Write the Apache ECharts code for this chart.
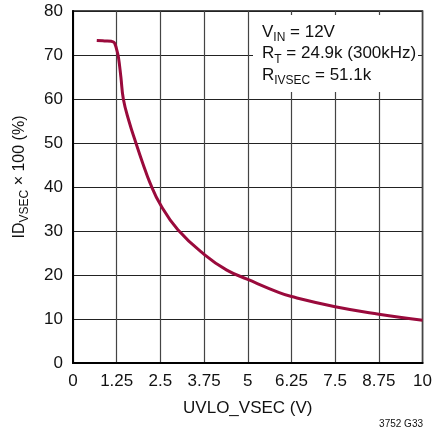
<!DOCTYPE html>
<html>
<head>
<meta charset="utf-8">
<script src="https://cdn.jsdelivr.net/npm/echarts@6/dist/echarts.min.js"></script>
<style>
html,body{margin:0;padding:0;background:#fff;}
#c{width:435px;height:434px;}
</style>
</head>
<body>
<div id="c"></div>
<script>
// UVLO_VSEC (V)
var uvloV = [0.68, 0.9, 1.1, 1.17, 1.21, 1.25, 1.3, 1.37, 1.44, 1.6, 1.8, 2.0, 2.2, 2.5, 3.0, 3.75, 4.4, 5.0, 5.9, 6.25, 7.5, 8.75, 10];
// IDVSEC x 100 (%)
var idVsec = [73.3, 73.2, 73.1, 72.9, 72.3, 71.2, 69.5, 65, 60, 55, 50, 45.3, 41, 36, 30.3, 24.7, 21.1, 19.0, 16.0, 15.1, 12.8, 11.1, 9.7];
var xTicks = [0, 1.25, 2.5, 3.75, 5, 6.25, 7.5, 8.75, 10];
var yTicks = [0, 10, 20, 30, 40, 50, 60, 70, 80];
var noteLines = [['V', 'IN', ' = 12V'], ['R', 'T', ' = 24.9k (300kHz)'], ['R', 'IVSEC', ' = 51.1k']];

var FONT = "'Liberation Sans',Arial,sans-serif";
var chart = echarts.init(document.getElementById('c'), null, {renderer:'canvas'});
var data = uvloV.map(function(x,i){return [x, idVsec[i]];});

var subRich = {
  n:{fontSize:17, fontFamily:FONT, color:'#111', lineHeight:20},
  s:{fontSize:12, fontFamily:FONT, color:'#111', lineHeight:14, padding:[12,0,0,0]}
};

var graphics = [
  {type:'rect', shape:{x:253, y:15, width:165, height:77}, style:{fill:'#fff'}, z:3}
];
noteLines.forEach(function(l, i){
  graphics.push({type:'text', left:262, top:20 + i*21.5, z:4, style:{
    text:'{n|'+l[0]+'}{s|'+l[1]+'}{n|'+l[2]+'}', rich:subRich, fill:'#111'
  }});
});
graphics.push({type:'text', x:20, y:177, rotation:Math.PI/2, z:4, style:{
  text:'{n|ID}{s|VSEC}{n| × 100 (%)}', align:'center', verticalAlign:'middle',
  fill:'#111',
  rich:{n:{fontSize:16, fontFamily:FONT, color:'#111', lineHeight:20},
        s:{fontSize:12, fontFamily:FONT, color:'#111', lineHeight:14, padding:[10,0,0,0]}}
}});
graphics.push({type:'text', right:12, top:419, z:4, style:{text:'3752 G33', fill:'#111', font:'10px '+FONT}});

chart.setOption({
  animation:false,
  backgroundColor:'#fff',
  grid:{left:73, top:11, right:11, bottom:71, show:true, borderColor:'#111', borderWidth:1.5},
  xAxis:{
    type:'value', min:xTicks[0], max:xTicks[xTicks.length-1], interval:1.25,
    axisLine:{show:true, lineStyle:{color:'#000', width:2}},
    axisTick:{show:false},
    axisLabel:{color:'#111', fontFamily:FONT, fontSize:17, margin:10,
      formatter:function(v){return String(v);}},
    splitLine:{show:true, lineStyle:{color:'#444', width:1.2}},
    name:'UVLO_VSEC (V)', nameLocation:'middle', nameGap:37,
    nameTextStyle:{color:'#111', fontFamily:FONT, fontSize:17}
  },
  yAxis:{
    type:'value', min:yTicks[0], max:yTicks[yTicks.length-1], interval:10,
    axisLine:{show:true, lineStyle:{color:'#000', width:2}},
    axisTick:{show:false},
    axisLabel:{color:'#111', fontFamily:FONT, fontSize:17, margin:10},
    splitLine:{show:true, lineStyle:{color:'#222', width:1.2}}
  },
  series:[{
    type:'line', data:data, showSymbol:false, smooth:0.45,
    lineStyle:{color:'#9a0a3c', width:3}, z:5
  }],
  graphic:graphics
});
</script>
</body>
</html>
